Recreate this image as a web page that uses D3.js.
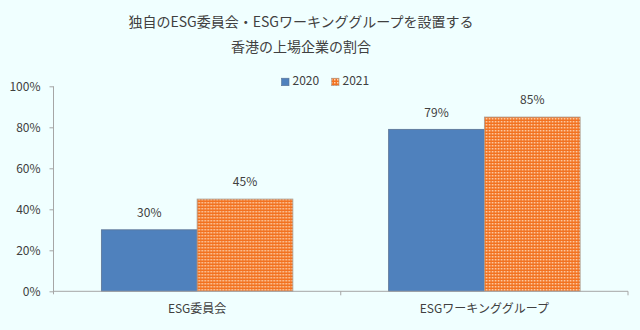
<!DOCTYPE html>
<html>
<head>
<meta charset="utf-8">
<script src="https://cdn.jsdelivr.net/npm/d3@7"></script>
<style>
  html, body { margin: 0; padding: 0; background: #F0FFFF; }
  svg { display: block; }
  text { font-family: "Noto Sans CJK JP", "Noto Sans", sans-serif; fill: #404040; }
</style>
</head>
<body>
<svg id="chart" width="640" height="330"></svg>
<script>
// Share of Hong Kong listed companies with their own ESG committee / working group
const categories = ["ESG委員会", "ESGワーキンググループ"];
const seriesNames = ["2020", "2021"];
const values2020 = [30, 79];
const values2021 = [45, 85];
const yTicks = [0, 20, 40, 60, 80, 100];
const titleLines = ["独自のESG委員会・ESGワーキンググループを設置する", "香港の上場企業の割合"];

const seriesValues = { "2020": values2020, "2021": values2021 };
const rows = categories.map((c, i) => ({
  category: c,
  bars: seriesNames.map(s => ({ series: s, value: seriesValues[s][i] }))
}));

const svg = d3.select("#chart");
svg.append("rect").attr("width", 640).attr("height", 330).attr("fill", "#F0FFFF");

// checkered fill for the 2021 bars
const defs = svg.append("defs");
const pat = defs.append("pattern")
  .attr("id", "checker")
  .attr("patternUnits", "userSpaceOnUse")
  .attr("width", 3).attr("height", 3);
pat.append("rect").attr("width", 3).attr("height", 3).attr("fill", "#F27220");
pat.append("rect").attr("x", 1).attr("y", 1).attr("width", 1.5).attr("height", 1.5).attr("fill", "#FDD3B2");

const plotLeft = 53.5, plotRight = 628, plotTop = 86.3, plotBottom = 291.3;

const x0 = d3.scaleBand().domain(categories).range([plotLeft, plotRight]).padding(0);
const x1 = d3.scaleBand().domain(seriesNames).range([0, x0.bandwidth()])
  .paddingInner(0).paddingOuter(0.5);
const y = d3.scaleLinear().domain([0, 100]).range([plotBottom, plotTop]);

const fills = { "2020": "#4F81BD", "2021": "url(#checker)" };
const strokes = { "2020": "#5B7393", "2021": "#A89C92" };

// title
svg.append("g").selectAll("text").data(titleLines).join("text")
  .attr("x", 301).attr("y", (d, i) => 23 + i * 25)
  .attr("text-anchor", "middle").attr("dominant-baseline", "middle")
  .attr("font-size", 14)
  .text(d => d);

// legend
const legend = svg.append("g");
const legendX = [281.5, 331.5];
seriesNames.forEach((s, i) => {
  legend.append("rect")
    .attr("x", legendX[i]).attr("y", 78.2).attr("width", 7.5).attr("height", 7.5)
    .attr("fill", fills[s]).attr("stroke", strokes[s]).attr("stroke-width", 0.6);
  legend.append("text")
    .attr("x", legendX[i] + 11).attr("y", 81.5)
    .attr("dominant-baseline", "middle").attr("font-size", 12)
    .text(s);
});

// y axis
const yAxis = svg.append("g")
  .attr("transform", `translate(${plotLeft},0)`)
  .call(d3.axisLeft(y).tickValues(yTicks).tickFormat(d => d + "%").tickSize(4).tickPadding(9));
yAxis.selectAll("path, line").attr("stroke", "#A6A6A6");
yAxis.select(".domain").attr("d", `M0,${plotTop}V${plotBottom + 3}`);
yAxis.selectAll("text").attr("font-size", 12).attr("fill", "#404040")
  .style("font-family", '"Noto Sans CJK JP", "Noto Sans", sans-serif');

// bars
const groups = svg.append("g").selectAll("g").data(rows).join("g")
  .attr("transform", d => `translate(${x0(d.category)},0)`);
groups.selectAll("rect").data(d => d.bars).join("rect")
  .attr("x", d => x1(d.series))
  .attr("y", d => y(d.value))
  .attr("width", x1.bandwidth())
  .attr("height", d => y(0) - y(d.value))
  .attr("fill", d => fills[d.series])
  .attr("stroke", d => strokes[d.series])
  .attr("stroke-width", 0.8);

// value labels
groups.selectAll("text.val").data(d => d.bars).join("text")
  .attr("class", "val")
  .attr("x", d => x1(d.series) + x1.bandwidth() / 2)
  .attr("y", d => y(d.value) - 16)
  .attr("text-anchor", "middle").attr("dominant-baseline", "middle")
  .attr("font-size", 12)
  .text(d => d.value + "%");

// x axis with ticks on the category boundaries
const xAxis = svg.append("g");
xAxis.append("line")
  .attr("x1", plotLeft).attr("x2", plotRight).attr("y1", plotBottom).attr("y2", plotBottom)
  .attr("stroke", "#A6A6A6");
const bounds = categories.map(c => x0(c)).concat([x0(categories[categories.length - 1]) + x0.bandwidth()]);
xAxis.selectAll("line.tick").data(bounds.slice(1)).join("line")
  .attr("class", "tick")
  .attr("x1", d => d).attr("x2", d => d)
  .attr("y1", plotBottom).attr("y2", plotBottom + 4)
  .attr("stroke", "#A6A6A6");
xAxis.selectAll("text").data(categories).join("text")
  .attr("x", d => x0(d) + x0.bandwidth() / 2)
  .attr("y", 310)
  .attr("text-anchor", "middle").attr("dominant-baseline", "middle")
  .attr("font-size", 12)
  .text(d => d);
</script>
</body>
</html>
